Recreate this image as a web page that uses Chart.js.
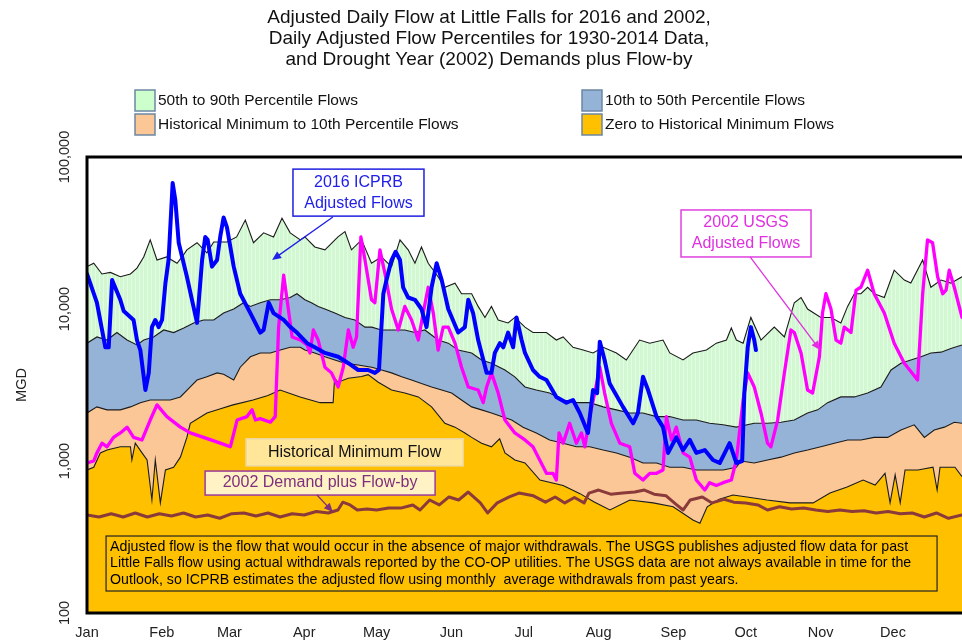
<!DOCTYPE html>
<html>
<head>
<meta charset="utf-8">
<script src="https://cdn.jsdelivr.net/npm/chart.js@4.4.0/dist/chart.umd.min.js"></script>
<style>
  html, body { margin: 0; padding: 0; background: #fff; }
  #wrap { width: 962px; height: 642px; }
</style>
</head>
<body>
<div id="wrap"><canvas id="flow" width="962" height="642"></canvas></div>
<script>
// x axis: day of year (0 = Jan 1); y axis: flow in MGD
var monthStart = [0, 31, 59, 90, 120, 151, 181, 212, 243, 273, 304, 334];
var monthName = ["Jan", "Feb", "Mar", "Apr", "May", "Jun", "Jul", "Aug", "Sep", "Oct", "Nov", "Dec"];
var yTicks = [100, 1000, 10000, 100000];
var yTickText = ["100", "1,000", "10,000", "100,000"];

// 90th percentile
var p90Day = [0,2.8,6.2,9.7,13.8,18,20.7,23.5,26.2,29,33,37.3,39.4,41.4,45.6,49.7,52.5,58,62,65.6,69,73.2,77.3,80.8,84.2,88.4,
  90.3,94.4,98.6,104,106.9,109.6,113.8,117.9,122,126.2,129.7,133.1,135.9,138.6,141.4,145.5,148.3,152.5,155.2,159.4,162.1,164.9,167.6,170.4,174.5,177.3,181.5,
  184.8,190.4,194.5,197.3,201.4,205.6,209.7,213.9,219.4,223.5,229,233.2,238.7,241.5,247,251.1,256.7,260.8,265,267,269.1,271.9,
  275.1,279.3,284.8,289,293.1,295.9,298.6,304.1,308.3,312.4,315.2,318,320.7,323.5,326.2,330.4,334.5,338.7,341.4,346.3,349.7,353.9,358,362.6];
var p90Flow = [19000,20000,17000,17400,16300,17000,18600,22000,28500,21000,22000,20000,22000,24500,27300,23400,27600,27600,29800,38500,27300,31700,29800,39600,31700,28500,
  29800,25600,24500,29800,32300,24500,28500,20000,22000,19000,28500,24500,20000,25600,20000,16300,13900,14800,12600,12600,10400,8800,10400,8470,8100,8800,7600,
  7000,7000,6250,6550,5600,5370,5140,5600,5140,4620,6250,5960,6250,5140,4620,5140,5370,5960,6250,7500,6250,5960,
  8800,6250,7600,6550,11000,11900,10000,8800,8800,8100,10400,12600,12600,13900,12600,11900,18000,15500,14800,21000,13900,15500,14800,16300];

// 50th percentile
var p50Day = [0,4.1,8.3,12.4,16.6,20.7,23.5,27.6,31.8,35.9,40.1,44.2,48.3,52.5,56.6,60.8,64.9,67.7,71.8,76,80.1,84.2,87,
  90.3,93,95.8,98.6,102.7,106.9,111,115.2,118,122,126.2,131.7,135.9,140,145.5,149.7,153.8,159.4,163.5,167.6,173.2,177.3,181.5,
  186.2,191.7,197.3,202.8,208.3,213.9,219.4,224.9,230.4,236,241.5,247,252.5,258,263.6,269.1,
  276.5,282,287.6,293.1,298.6,302.8,306.9,312.4,318,323.5,329,333.2,337.3,341.4,345.6,349.7,353.9,358,362.6];
var p50Flow = [5960,6550,6250,7000,6250,5800,6250,6550,7280,7000,7500,8100,8470,8470,9400,10000,11000,10400,11000,11500,11500,11900,12600,
  11500,11000,10400,10000,9400,8800,8470,7600,7600,7280,7280,7280,7000,7280,6250,5960,5370,5140,4620,4400,3970,3580,3070,
  2930,2800,2520,2420,2420,2270,2170,2070,2070,1960,1960,1860,1860,1770,1730,1670,
  1770,1770,1800,1860,2070,2170,2420,2640,2640,2800,3070,3970,4400,4620,4850,5140,5200,5500,5800];

// 10th percentile
var p10Day = [0,4.1,8.3,13.8,18,22.1,26.2,30.4,34.5,38.7,42.8,45.6,49.7,53.9,56.6,60.8,63.5,67.7,71.8,76,80.1,84.2,88.4,
  90.3,94.4,98.6,102.7,106.9,112.4,118,122.1,126.2,130.4,134.5,138.6,142.8,147,151.1,155.2,159.4,163.5,167.6,171.8,176,180.7,
  186.2,191.7,197.3,202.8,208.3,213.9,219.4,224.9,230.4,236,241.5,247,252.5,258,263.6,269.1,
  271,276.5,282,287.6,293.1,298.6,304.1,309.7,315.2,320.7,326.2,331.8,337.3,342.8,347,351.1,355.3,359.4,362.6];
var p10Flow = [2070,2270,2170,2170,2270,2420,2520,2520,2520,2640,3070,3410,3580,3800,3720,3410,4140,4850,5140,5140,5370,5600,5600,
  5370,5140,4850,4620,4400,4280,4140,3970,3800,3580,3410,3230,3070,2930,2800,2520,2270,2170,2070,1960,1860,1670,
  1530,1375,1310,1240,1240,1180,1130,1060,970,970,910,910,873,873,873,910,
  1000,970,1015,1060,1130,1180,1240,1310,1375,1375,1430,1430,1600,1730,1430,1600,1670,1800,1770];

// historical minimum
var minDay = [0,2.8,5.5,8.3,13.8,18,18.6,20,22.8,24.9,26.9,28.3,30.4,32.5,35.9,38.7,41.4,42.8,49.7,55,
  60.5,68.8,75,80,88.3,96.6,102,102.6,104,108.3,113.8,116.5,120.7,126.2,131.7,137.3,142.8,148.3,152.5,156.6,
  159.4,163.5,167.6,171,173.2,177.3,181.5,187.7,197.3,204.3,210,216.7,225,234.6,242.9,251.1,254,257,262,267.7,
  273.5,281.8,291.3,300.9,307.9,315,321.6,326.6,330.7,332.8,334.9,337,339,344.4,350.6,352.3,353.5,359.7,362.6];
var minFlow = [873,910,1130,1180,1240,1240,1015,1310,1130,1015,554,1015,530,873,910,1060,1430,1770,2070,2200,
  2340,2520,2700,2930,2640,2420,2420,3500,3300,3500,3600,3700,3300,2930,2800,2640,2270,1770,1670,1530,
  1430,1310,1240,1400,1130,1015,970,750,690,610,540,476,554,530,500,409,390,500,560,598,
  580,554,530,530,615,675,750,695,830,530,810,530,873,873,910,644,910,910,790];

// 2002 demand plus flow-by
var demandDay = [0,5,10,15,20,25,30,35,40,45,50,55,60,65,70,75,80,85,90,95,100,104,106,109,112,116,120,125,130,135,138,
  142,146,150,154,158,163,166,170,175,179,185,190,194,198,202,206,208,212,217,222,227,231,235,240,244,247,250,255,259,264,
  268,273,278,282,287,292,297,302,307,312,317,322,327,332,337,342,347,352,357,362.6];
var demandFlow = [441,428,450,428,455,428,450,435,455,428,441,420,450,455,435,455,428,450,441,465,455,476,536,514,476,483,476,490,490,514,476,
  554,514,580,554,625,530,455,530,580,615,590,536,580,530,575,530,615,644,605,615,625,644,605,590,520,476,554,580,530,560,
  536,530,514,476,500,483,490,476,465,476,465,470,455,465,450,455,428,455,420,441];

// 2016 ICPRB adjusted flows
var flow2016Day = [0,4.1,7.6,9,10.4,13.8,15.2,19.3,20.7,22.1,24.2,25.6,26.9,28.3,29.7,31.1,32.5,33.8,35.5,36.6,
  38,41.4,45.6,47.7,49,50,51.8,53.9,55.2,56.6,58,60.8,63.5,67.7,71.8,73.2,75.3,77.3,81.5,84.3,87,91.2,
  94.4,98.6,104.1,108.3,112.4,116.5,119.3,121,122.8,124.1,126.2,127.9,129.7,131,133.1,135.9,138.6,140.7,142.8,144.9,
  147,149.7,153.8,156.6,158,160,162.1,165.6,167.6,169,171.1,172.5,174.5,176.6,178,180.1,181.5,
  184.8,187.6,190.4,194.5,198.7,201.4,204.2,207.6,209.7,211.4,212.5,214.5,216.6,222.1,226.3,228.3,230.4,232.5,236,238.7,
  240.8,244.2,247,249.8,252.5,256,259.4,262.2,264.3,266.3,269.1,271.5,272.4,273.8,275.1,276.5,277.2];
var flow2016 = [17000,11000,5600,5600,15500,11500,9700,8470,6250,5370,2930,3800,7600,8470,7600,8470,14800,21000,67500,52100,
  27300,16300,8100,21000,29800,28500,19000,21000,29800,40000,34400,19000,12600,9400,7000,7280,11000,9400,8470,7600,7000,5960,
  5600,5140,4850,4400,3970,3970,3800,3970,12600,15500,21000,23800,21000,13900,11900,11500,10000,7600,13900,20000,
  15500,10000,7000,7600,11500,9400,6250,3800,3800,5140,5960,5600,7000,5600,8800,6250,5140,
  3970,3580,3410,2640,2420,2520,2070,1530,2930,2800,6100,4620,3230,2270,1770,2070,3580,2930,1960,1670,
  1130,1430,1180,1375,1130,1180,1015,970,1130,1310,970,1000,2800,5600,7600,6250,5370];

// 2002 USGS adjusted flows
var flow2002Day = [0,2.8,4.1,6.2,8.3,11,13.8,16.6,19.3,22.8,26.2,29,33.1,38.7,42.8,48.3,55.2,59.4,62.2,66.3,
  68.4,69.8,71.8,76,78,79.4,81.5,82.9,85,88.4,91.2,
  92.4,93.8,95.8,98.6,101.3,104.1,106.2,108.3,110.3,111.7,113.5,115.2,117.9,119.3,121.4,123.5,126.2,129,131.7,134.5,
  137.3,139.3,141.4,143.5,145.5,147.6,149.7,152.5,155.2,158,162.1,164.2,165.6,167.6,170.4,173.2,177.3,181.5,
  184.8,187.6,190.4,193.1,194.5,195.6,197.3,200,202.8,204.9,206.3,208.3,210.4,212.5,214.5,217.3,220.8,224.9,227,230.4,
  233.2,236,238.7,240.1,242.2,244.2,247,249.8,252.5,256,258,260.8,263.6,267,269.1,271.9,
  273.8,276.5,279.3,282,283.4,286.2,289,291.7,293.1,295.9,298.6,300.7,303.5,304.8,306.2,308.3,310.4,312.4,313.8,316.6,
  318.7,320.7,323.5,326.2,330.4,334.5,338.7,344.2,346.3,348.3,350.4,352.5,354.6,356,357.3,359.4,362.6];
var flow2002 = [970,1000,1130,1310,1240,1430,1530,1670,1430,1375,1860,2340,1960,1670,1530,1430,1310,1240,1860,1960,
  2170,1860,1900,1800,1960,7600,16700,11500,6550,6250,5800,
  5140,7280,6250,4140,3800,3070,4140,7280,5600,6550,29800,21000,11500,11000,24500,17000,10000,7280,10400,8470,
  6250,9400,13900,9400,5370,7600,7600,5960,4140,3070,2930,2420,3070,3800,2800,1860,1530,1375,
  1240,1015,830,830,750,1530,1310,1770,1310,1530,1240,1960,2800,4140,2800,1770,1310,1240,830,750,
  830,830,873,1960,1375,1670,1130,1060,750,644,720,690,720,750,1015,2520,
  3800,3070,2070,1310,1240,1860,3800,7280,7000,5140,2930,2800,4850,9400,12600,10000,6250,5960,7600,7000,
  13300,13900,18000,12600,9400,5960,4400,3410,12600,28500,27300,16300,12600,13300,18000,13900,8800];

var FONT = '"Liberation Sans", Arial, sans-serif';

function pts(days, flows) {
  return days.map(function (d, i) { return { x: d, y: flows[i] }; });
}

var canvas = document.getElementById('flow');
var greenFill = (function () {
  var c = document.createElement('canvas');
  c.width = 4; c.height = 4;
  var g = c.getContext('2d');
  g.fillStyle = '#D2F8D2';
  g.fillRect(0, 0, 4, 4);
  g.fillStyle = '#E4FCE4';
  g.fillRect(3, 0, 1, 4);
  return canvas.getContext('2d').createPattern(c, 'repeat');
})();

function arrow(ctx, x1, y1, x2, y2, color) {
  var ang = Math.atan2(y2 - y1, x2 - x1);
  ctx.save();
  ctx.strokeStyle = color;
  ctx.fillStyle = color;
  ctx.lineWidth = 1.3;
  ctx.beginPath();
  ctx.moveTo(x1, y1);
  ctx.lineTo(x2 - 5 * Math.cos(ang), y2 - 5 * Math.sin(ang));
  ctx.stroke();
  ctx.beginPath();
  ctx.moveTo(x2, y2);
  ctx.lineTo(x2 - 9 * Math.cos(ang) + 4 * Math.sin(ang), y2 - 9 * Math.sin(ang) - 4 * Math.cos(ang));
  ctx.lineTo(x2 - 9 * Math.cos(ang) - 4 * Math.sin(ang), y2 - 9 * Math.sin(ang) + 4 * Math.cos(ang));
  ctx.closePath();
  ctx.fill();
  ctx.restore();
}

function box(ctx, cx, cy, w, h, fill, stroke, lw) {
  ctx.save();
  ctx.fillStyle = fill;
  ctx.fillRect(cx - w / 2, cy - h / 2, w, h);
  ctx.strokeStyle = stroke;
  ctx.lineWidth = lw;
  ctx.strokeRect(cx - w / 2, cy - h / 2, w, h);
  ctx.restore();
}

function lines(ctx, textLines, cx, cy, lh, font, color) {
  ctx.save();
  ctx.font = font;
  ctx.fillStyle = color;
  ctx.textAlign = 'center';
  ctx.textBaseline = 'middle';
  var top = cy - (textLines.length - 1) * lh / 2;
  textLines.forEach(function (t, i) { ctx.fillText(t, cx, top + i * lh); });
  ctx.restore();
}

// Draws plot frame, y labels, annotations, title and legend
var decor = {
  id: 'decor',
  afterDatasetsDraw: function (chart) {
    var ctx = chart.ctx, a = chart.chartArea;
    var x = chart.scales.x, y = chart.scales.y;
    var px = function (d) { return x.getPixelForValue(d); };
    var py = function (v) { return y.getPixelForValue(v); };

    // frame
    ctx.save();
    ctx.strokeStyle = '#000';
    ctx.lineWidth = 3;
    ctx.beginPath();
    ctx.moveTo(a.right + 2, a.top);
    ctx.lineTo(a.left, a.top);
    ctx.lineTo(a.left, a.bottom);
    ctx.lineTo(a.right + 2, a.bottom);
    ctx.stroke();
    ctx.restore();

    // 2016 label
    box(ctx, px(112.5), py(58300), 131, 47, '#fff', '#2020E0', 1.5);
    lines(ctx, ['2016 ICPRB', 'Adjusted Flows'], px(112.5), py(58300), 21, '16px ' + FONT, '#2020E8');
    arrow(ctx, px(101.9), py(40300), px(76.7), py(21000), '#2020E8');

    // 2002 label
    box(ctx, px(273.1), py(31400), 130, 47, '#fff', '#E040E0', 1.5);
    lines(ctx, ['2002 USGS', 'Adjusted Flows'], px(273.1), py(31400), 21, '16px ' + FONT, '#E030E0');
    arrow(ctx, px(274.8), py(22000), px(303.8), py(5370), '#E030E0');

    // historical minimum label
    box(ctx, px(110.9), py(1140), 217, 27, '#FFE699', '#EED9A8', 1.5);
    lines(ctx, ['Historical Minimum Flow'], px(110.9), py(1140), 18, '16px ' + FONT, '#111');

    // demand label
    box(ctx, px(96.6), py(716), 230, 24, '#FFF2C4', '#9B3B9B', 1.5);
    lines(ctx, ['2002 Demand plus Flow-by'], px(96.6), py(716), 18, '16px ' + FONT, '#7E2F7E');
    arrow(ctx, px(95.3), py(597), px(101.9), py(462), '#7E2F7E');

    // note box
    var nx = px(7.9), ny = py(321);
    ctx.save();
    ctx.fillStyle = '#FFC000';
    ctx.fillRect(nx, ny, 831, 55);
    ctx.strokeStyle = '#222';
    ctx.lineWidth = 1.2;
    ctx.strokeRect(nx, ny, 831, 55);
    ctx.font = '14.2px ' + FONT;
    ctx.fillStyle = '#000';
    ctx.textBaseline = 'middle';
    ctx.fillText('Adjusted flow is the flow that would occur in the absence of major withdrawals. The USGS publishes adjusted flow data for past', nx + 4, ny + 11);
    ctx.fillText('Little Falls flow using actual withdrawals reported by the CO-OP utilities. The USGS data are not always available in time for the', nx + 4, ny + 27.5);
    ctx.fillText('Outlook, so ICPRB estimates the adjusted flow using monthly  average withdrawals from past years.', nx + 4, ny + 44);
    ctx.restore();
  },
  afterDraw: function (chart) {
    var ctx = chart.ctx, a = chart.chartArea, y = chart.scales.y;

    // rotated y tick labels
    ctx.save();
    ctx.font = '14.5px ' + FONT;
    ctx.fillStyle = '#222';
    ctx.textAlign = 'center';
    ctx.textBaseline = 'middle';
    yTicks.forEach(function (v, i) {
      ctx.save();
      ctx.translate(65, y.getPixelForValue(v));
      ctx.rotate(-Math.PI / 2);
      ctx.fillText(yTickText[i], 0, 0);
      ctx.restore();
    });
    ctx.translate(22, (a.top + a.bottom) / 2);
    ctx.rotate(-Math.PI / 2);
    ctx.fillText('MGD', 0, 0);
    ctx.restore();

    // title
    lines(ctx, ['Adjusted Daily Flow at Little Falls for 2016 and 2002,',
      'Daily Adjusted Flow Percentiles for 1930-2014 Data,',
      'and Drought Year (2002) Demands plus Flow-by'], 489, 39, 21, '19px ' + FONT, '#111');

    // legend
    var items = [
      { t: '50th to 90th Percentile Flows', c: '#CCFFCC', x: 135, y: 90 },
      { t: 'Historical Minimum to 10th Percentile Flows', c: '#FBC797', x: 135, y: 114 },
      { t: '10th to 50th Percentile Flows', c: '#95B3D7', x: 582, y: 90 },
      { t: 'Zero to Historical Minimum Flows', c: '#FFC000', x: 582, y: 114 }
    ];
    ctx.save();
    ctx.font = '15.5px ' + FONT;
    ctx.textBaseline = 'middle';
    items.forEach(function (it) {
      ctx.fillStyle = it.c;
      ctx.fillRect(it.x, it.y, 20, 21);
      ctx.strokeStyle = '#6C86A4';
      ctx.lineWidth = 1.5;
      ctx.strokeRect(it.x, it.y, 20, 21);
      ctx.fillStyle = '#111';
      ctx.fillText(it.t, it.x + 23, it.y + 11);
    });
    ctx.restore();
  }
};

function band(label, days, flows, fill, color, order) {
  return {
    label: label, data: pts(days, flows), fill: fill, backgroundColor: color,
    borderColor: '#1a1a1a', borderWidth: 1.1, pointRadius: 0, tension: 0, order: order
  };
}

function line(label, days, flows, color, width, order) {
  return {
    label: label, data: pts(days, flows), fill: false, borderColor: color,
    borderWidth: width, pointRadius: 0, tension: 0, order: order,
    borderJoinStyle: 'round', borderCapStyle: 'round'
  };
}

new Chart(canvas, {
  type: 'line',
  data: {
    datasets: [
      band('Zero to Historical Minimum Flows', minDay, minFlow, 'start', '#FFC000', 10),
      band('Historical Minimum to 10th Percentile Flows', p10Day, p10Flow, '-1', '#FBC797', 9),
      band('10th to 50th Percentile Flows', p50Day, p50Flow, '-1', '#95B3D7', 8),
      band('50th to 90th Percentile Flows', p90Day, p90Flow, '-1', greenFill, 7),
      line('2002 Demand plus Flow-by', demandDay, demandFlow, '#8A3A3A', 3, 3),
      line('2002 USGS Adjusted Flows', flow2002Day, flow2002, '#FF00FF', 3.3, 2),
      line('2016 ICPRB Adjusted Flows', flow2016Day, flow2016, '#0000FF', 4, 1)
    ]
  },
  options: {
    responsive: false,
    animation: false,
    devicePixelRatio: 1,
    layout: { padding: { top: 157, left: 0, right: 0, bottom: 0 } },
    plugins: {
      legend: { display: false },
      title: { display: false },
      tooltip: { enabled: false },
      filler: { drawTime: 'beforeDatasetsDraw' }
    },
    scales: {
      x: {
        type: 'linear',
        min: 0,
        max: 362.6,
        grid: { display: false, drawTicks: false },
        border: { display: false },
        afterBuildTicks: function (s) { s.ticks = monthStart.map(function (v) { return { value: v }; }); },
        afterFit: function (s) { s.height = 29; },
        ticks: {
          autoSkip: false,
          maxRotation: 0,
          padding: 11,
          color: '#222',
          font: { family: FONT, size: 14.5 },
          callback: function (v, i) { return monthName[i]; }
        }
      },
      y: {
        type: 'logarithmic',
        min: 100,
        max: 100000,
        grid: { display: false, drawTicks: false },
        border: { display: false },
        ticks: { display: false },
        afterFit: function (s) { s.width = 87; }
      }
    }
  },
  plugins: [decor]
});
</script>
</body>
</html>
